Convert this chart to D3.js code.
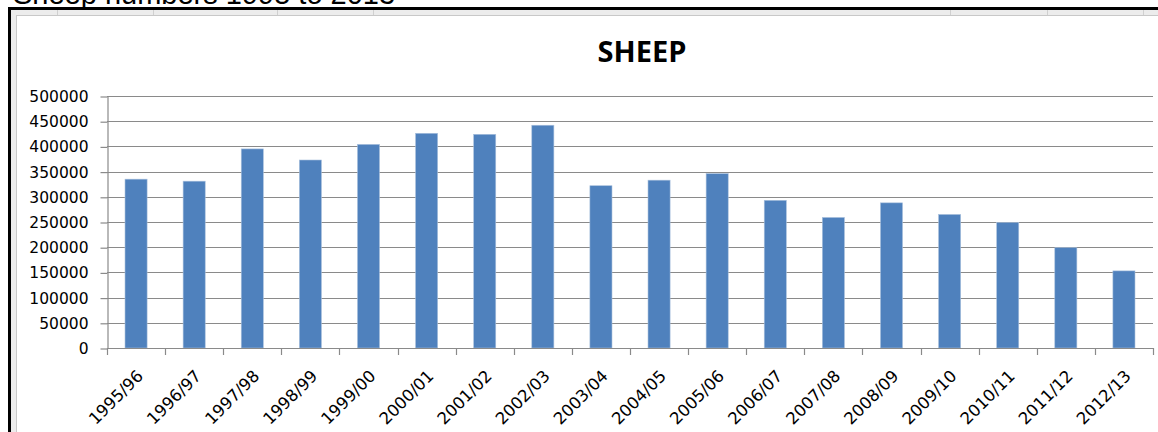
<!DOCTYPE html>
<html>
<head>
<meta charset="utf-8">
<script src="https://cdn.jsdelivr.net/npm/d3@7"></script>
<style>
  html, body { margin: 0; padding: 0; background: #ffffff; }
  svg { display: block; }
</style>
</head>
<body>
<svg id="sheepChart" width="1158" height="432"></svg>
<script>
// data
const seasons = ["1995/96", "1996/97", "1997/98", "1998/99", "1999/00", "2000/01",
                 "2001/02", "2002/03", "2003/04", "2004/05", "2005/06", "2006/07",
                 "2007/08", "2008/09", "2009/10", "2010/11", "2011/12", "2012/13"];
const sheepCount = [335000, 331000, 395000, 373000, 404000, 426000,
                    424000, 442000, 322000, 333000, 346000, 293000,
                    259000, 288000, 265000, 249000, 199000, 153000];
const yTicks = [0, 50000, 100000, 150000, 200000, 250000, 300000, 350000, 400000, 450000, 500000];
const chartTitle = "SHEEP";
const pageTitle = "Sheep numbers 1995 to 2013";

const W = 1158, H = 432;
const plotL = 107, plotR = 1153, plotT = 96, plotB = 348;
const barColor = "#4F81BD";
const gridColor = "#8a8a8a";

const svg = d3.select("#sheepChart");

// worksheet text above the chart (mostly cut off)
svg.append("text")
    .attr("x", 13)
    .attr("y", 4)
    .attr("font-family", "Liberation Sans, Arial, sans-serif")
    .attr("font-size", 29)
    .attr("fill", "#000")
    .text(pageTitle);

// spreadsheet background strips behind the chart frame
svg.append("rect").attr("x", 11).attr("y", 10).attr("width", W - 11).attr("height", 6).attr("fill", "#ececec");
svg.append("line").attr("x1", 11).attr("x2", W).attr("y1", 15.5).attr("y2", 15.5).attr("stroke", "#c8c8c8");
svg.append("rect").attr("x", 11).attr("y", 10).attr("width", 6).attr("height", H - 10).attr("fill", "#ececec");
svg.append("line").attr("x1", 16.5).attr("x2", 16.5).attr("y1", 15).attr("y2", H).attr("stroke", "#c8c8c8");
[57, 153, 277, 373, 950, 1047, 1143].forEach(cx => {
  svg.append("line").attr("x1", cx + 0.5).attr("x2", cx + 0.5).attr("y1", 10).attr("y2", 15)
      .attr("stroke", "#d0d0d0");
});

// black frame
svg.append("line").attr("x1", 8).attr("x2", W).attr("y1", 8.5).attr("y2", 8.5)
    .attr("stroke", "#000").attr("stroke-width", 3);
svg.append("line").attr("x1", 9.5).attr("x2", 9.5).attr("y1", 7).attr("y2", H)
    .attr("stroke", "#000").attr("stroke-width", 3);

// scales
const x = d3.scaleBand()
    .domain(seasons)
    .range([plotL, plotR])
    .paddingInner(0.62)
    .paddingOuter(0.31);

const y = d3.scaleLinear()
    .domain([0, 500000])
    .range([plotB, plotT]);

// gridlines
svg.append("g")
    .selectAll("line")
    .data(yTicks)
    .enter()
      .append("line")
        .attr("x1", plotL)
        .attr("x2", plotR)
        .attr("y1", d => Math.round(y(d)) + 0.5)
        .attr("y2", d => Math.round(y(d)) + 0.5)
        .attr("stroke", gridColor)
        .attr("stroke-width", 1.2);

// y axis
const yAxis = svg.append("g")
    .attr("transform", "translate(" + (plotL + 0.5) + ",0.5)")
    .call(d3.axisLeft(y).tickValues(yTicks).tickSize(7).tickSizeOuter(0).tickPadding(12).tickFormat(d3.format("d")));
yAxis.select(".domain").attr("stroke", gridColor).attr("stroke-width", 1.2);
yAxis.selectAll(".tick line").attr("stroke", gridColor).attr("stroke-width", 1.2);
yAxis.selectAll(".tick text")
    .attr("font-family", "DejaVu Sans, sans-serif")
    .attr("font-size", 15.5)
    .attr("fill", "#000");

// bars
svg.append("g")
    .selectAll("rect")
    .data(seasons)
    .enter()
      .append("rect")
        .attr("x", d => x(d))
        .attr("y", (d, i) => y(sheepCount[i]))
        .attr("width", x.bandwidth())
        .attr("height", (d, i) => plotB - y(sheepCount[i]))
        .attr("fill", barColor)
        .attr("stroke", "#a9c0dd")
        .attr("stroke-width", 0.6);

// x axis line and category boundary ticks
svg.append("line")
    .attr("x1", plotL).attr("x2", plotR)
    .attr("y1", plotB + 0.5).attr("y2", plotB + 0.5)
    .attr("stroke", gridColor).attr("stroke-width", 1.2);

const bounds = d3.range(seasons.length + 1).map(i => x.range()[0] + i * x.step());
svg.append("g")
    .selectAll("line")
    .data(bounds)
    .enter()
      .append("line")
        .attr("x1", d => Math.round(d) + 0.5)
        .attr("x2", d => Math.round(d) + 0.5)
        .attr("y1", plotB)
        .attr("y2", plotB + 7)
        .attr("stroke", gridColor)
        .attr("stroke-width", 1.2);

// rotated category labels
svg.append("g")
    .selectAll("text")
    .data(seasons)
    .enter()
      .append("text")
        .attr("transform", d => "translate(" + (x(d) + x.bandwidth() / 2 + 4) + "," + (plotB + 25) + ") rotate(-45)")
        .attr("text-anchor", "end")
        .attr("dy", "0.35em")
        .attr("font-family", "DejaVu Sans, sans-serif")
        .attr("font-size", 16.5)
        .attr("fill", "#000")
        .text(d => d);

// chart title
svg.append("text")
    .attr("x", 642)
    .attr("y", 62)
    .attr("text-anchor", "middle")
    .attr("font-family", "Open Sans, sans-serif")
    .attr("font-weight", "bold")
    .attr("font-size", 29)
    .attr("fill", "#000")
    .text(chartTitle);
</script>
</body>
</html>
